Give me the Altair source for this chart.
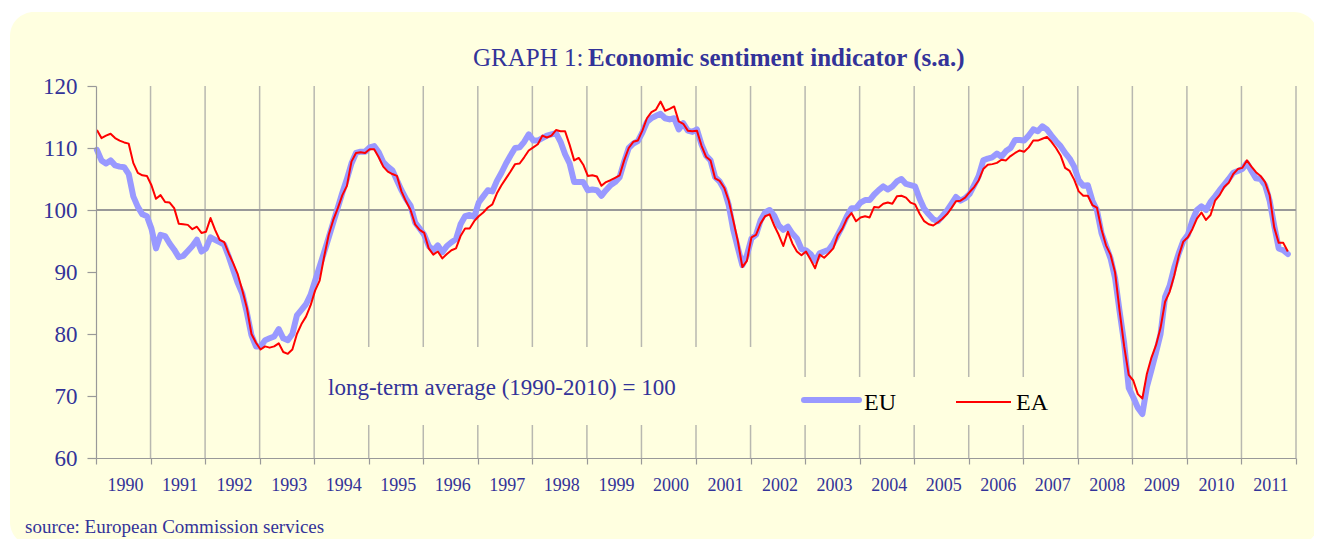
import altair as alt
import pandas as pd

BG = "#FFFFE0"
NAVY = "#333399"
FONT = "Liberation Serif"

# ---------------- data ----------------
year_ticks = list(range(1990, 2013))          # year boundaries (ticks / grid)
grid_years = list(range(1991, 2013))
y_ticks = [60, 70, 80, 90, 100, 110, 120]
series_names = ["EU", "EA"]
series_colors = ["#9999FF", "#FF0000"]
long_term_average = [100]

# monthly values, Jan 1990 .. Nov 2011
eu_values = [
    109.7, 108.0, 107.5, 108.0, 107.2, 107.0, 106.9, 105.8, 102.2, 100.5, 99.3, 99.0,   # 1990
    97.0, 93.8, 96.0, 95.8, 94.6, 93.6, 92.4, 92.6, 93.4, 94.2, 95.2, 93.3,             # 1991
    93.8, 95.6, 95.2, 94.8, 94.4, 92.5, 90.3, 88.2, 86.5, 83.4, 79.8, 78.0,             # 1992
    78.0, 79.0, 79.3, 79.6, 80.8, 79.3, 79.0, 80.0, 83.0, 83.9, 84.8, 86.3,             # 1993
    88.6, 90.9, 93.2, 95.6, 98.0, 100.4, 102.8, 105.0, 107.5, 109.2, 109.4, 109.4,      # 1994
    110.1, 110.3, 109.3, 107.7, 107.0, 106.4, 104.8, 103.2, 101.8, 100.7, 98.0, 97.0,   # 1995
    96.0, 94.2, 93.5, 94.3, 93.2, 94.2, 94.8, 95.3, 97.7, 99.0, 99.2, 98.9,             # 1996
    101.2, 102.2, 103.2, 103.0, 104.7, 106.0, 107.5, 108.8, 110.0, 110.1, 111.0, 112.2, # 1997
    111.2, 111.2, 111.6, 112.0, 112.2, 112.4, 111.0, 109.0, 107.5, 104.5, 104.5, 104.5, # 1998
    103.2, 103.3, 103.2, 102.3, 103.2, 104.0, 104.5, 105.3, 107.8, 110.0, 110.7, 111.1, # 1999
    112.5, 114.2, 114.8, 115.2, 115.5, 114.8, 114.6, 114.8, 113.0, 114.0, 112.8, 112.6, # 2000
    113.0, 110.6, 108.8, 108.0, 105.3, 104.6, 103.3, 100.8, 96.8, 93.9, 91.1, 92.7,     # 2001
    95.4, 96.0, 98.3, 99.6, 100.0, 99.1, 97.5, 96.8, 97.3, 96.2, 95.4, 93.7,            # 2002
    93.5, 92.9, 91.8, 93.0, 93.3, 93.6, 94.6, 96.0, 97.4, 99.0, 100.3, 100.3,           # 2003
    101.2, 101.6, 101.6, 102.5, 103.2, 103.8, 103.3, 103.8, 104.6, 105.0, 104.2, 104.0, # 2004
    103.8, 101.8, 100.2, 99.3, 98.5, 98.2, 99.0, 99.9, 101.0, 102.1, 101.5, 101.9,      # 2005
    102.6, 104.0, 105.5, 108.0, 108.3, 108.5, 109.1, 108.6, 109.5, 110.0, 111.3, 111.3, # 2006
    111.2, 112.0, 113.0, 112.7, 113.5, 113.0, 112.0, 111.1, 110.3, 109.2, 108.3, 107.0, # 2007
    104.8, 103.9, 104.0, 101.5, 100.0, 96.3, 94.2, 92.2, 89.0, 83.6, 78.5, 71.3,        # 2008
    69.8, 68.1, 67.1, 71.5, 74.2, 77.0, 80.0, 86.0, 87.8, 90.7, 93.0, 95.0,             # 2009
    96.0, 98.3, 100.0, 100.6, 100.0, 101.3, 102.2, 103.2, 104.1, 105.0, 106.0, 106.3,   # 2010
    106.6, 107.6, 106.3, 105.1, 105.0, 104.0, 101.5, 97.5, 93.8, 93.5, 92.9,            # 2011
]

ea_values = [
    112.9, 111.6, 112.0, 112.3, 111.6, 111.2, 110.9, 110.7, 107.6, 106.0, 105.6, 105.5, # 1990
    104.0, 101.8, 102.4, 101.3, 101.2, 100.3, 97.8, 97.7, 97.6, 96.9, 97.3, 96.3,       # 1991
    96.5, 98.7, 96.8, 95.2, 94.8, 93.0, 91.4, 89.6, 87.0, 84.2, 80.0, 78.6,             # 1992
    77.5, 78.0, 77.8, 78.0, 78.5, 77.1, 76.8, 77.5, 80.0, 81.6, 82.8, 84.6,             # 1993
    87.0, 88.6, 92.5, 96.0, 98.4, 100.3, 102.4, 103.9, 107.8, 109.2, 109.3, 109.2,      # 1994
    109.8, 109.8, 108.5, 107.0, 106.2, 105.8, 105.5, 103.0, 101.4, 100.0, 97.7, 96.8,   # 1995
    96.3, 93.8, 92.8, 93.3, 92.2, 92.9, 93.5, 93.8, 95.8, 97.0, 97.0, 98.2,             # 1996
    99.0, 99.6, 100.4, 100.9, 102.7, 104.0, 105.1, 106.2, 107.4, 107.5, 108.5, 109.6,   # 1997
    110.1, 110.6, 112.0, 111.7, 112.0, 112.9, 112.7, 112.7, 110.5, 108.0, 108.4, 107.3, # 1998
    105.5, 105.6, 105.4, 103.9, 104.5, 104.8, 105.2, 105.6, 108.0, 110.0, 111.0, 111.2, # 1999
    112.8, 114.8, 115.8, 116.2, 117.5, 116.0, 116.3, 116.7, 114.3, 113.9, 112.8, 112.7, # 2000
    112.8, 110.4, 108.6, 108.0, 105.1, 104.7, 103.6, 101.5, 98.3, 95.0, 90.8, 91.8,     # 2001
    95.6, 96.0, 97.8, 99.0, 99.3, 97.5, 96.0, 94.2, 96.5, 94.6, 93.3, 92.7,             # 2002
    93.3, 92.0, 90.6, 92.8, 92.3, 93.0, 93.8, 95.9, 97.0, 98.6, 99.5, 98.2,             # 2003
    98.8, 99.0, 98.8, 100.5, 100.4, 101.0, 101.2, 101.0, 102.2, 102.3, 102.0, 101.2,    # 2004
    100.9, 99.4, 98.2, 97.7, 97.5, 98.0, 98.6, 99.3, 100.3, 101.4, 101.5, 102.0,        # 2005
    102.9, 103.7, 104.8, 106.6, 107.3, 107.4, 107.6, 108.1, 108.0, 108.7, 109.2, 109.6, # 2006
    109.4, 110.1, 111.2, 111.2, 111.5, 111.8, 111.0, 110.0, 108.8, 106.8, 106.3, 104.9, # 2007
    103.0, 102.3, 102.3, 100.8, 100.4, 96.9, 94.3, 92.8, 89.9, 83.7, 78.0, 73.4,        # 2008
    72.5, 70.3, 69.6, 73.6, 76.2, 78.2, 81.0, 85.2, 86.8, 89.4, 92.6, 94.9,             # 2009
    95.6, 96.9, 98.6, 99.6, 98.4, 99.2, 101.5, 102.4, 103.7, 104.4, 105.8, 106.6,       # 2010
    106.8, 108.0, 107.0, 106.1, 105.5, 104.5, 102.4, 97.2, 94.7, 94.7, 93.3,            # 2011
]

start_year = 1990
df_eu = pd.DataFrame({"t": [start_year + (i + 0.2) / 12 for i in range(len(eu_values))],
                      "v": eu_values})
df_ea = pd.DataFrame({"t": [start_year + (i + 0.2) / 12 for i in range(len(ea_values))],
                      "v": ea_values})
df_grid = pd.DataFrame({"yr": grid_years})
df_avg = pd.DataFrame({"v": long_term_average})
one = pd.DataFrame({"a": [0]})

# ---------------- layout ----------------
W, H = 1200, 372
xscale = alt.Scale(domain=[1990, 2012], nice=False, zero=False)
yscale = alt.Scale(domain=[60, 120], nice=False, zero=False)

x_axis = alt.Axis(values=year_ticks, format="d",
                  labelExpr="datum.value >= 2012 ? '' : datum.label",
                  labelOffset=29, labelFlush=False, labelOverlap=False,
                  tickSize=6, tickColor="#999999", tickWidth=1.2,
                  domainColor="#999999", domainWidth=1.2, grid=False,
                  labelFont=FONT, labelFontSize=18, labelColor=NAVY,
                  labelPadding=12, title=None, zindex=1)
y_axis = alt.Axis(values=y_ticks, tickSize=9, tickColor="#999999", tickWidth=1.2,
                  domainColor="#999999", domainWidth=1.2, grid=False,
                  labelFont=FONT, labelFontSize=23, labelColor=NAVY,
                  labelPadding=10, title=None, zindex=1)

background = alt.Chart(one).mark_rect(fill=BG, cornerRadius=24).encode(
    x=alt.value(-86), x2=alt.value(1222), y=alt.value(-74), y2=alt.value(460))

grid = alt.Chart(df_grid).mark_rule(color="#b8b8b0", strokeWidth=1.5).encode(
    x=alt.X("yr:Q", scale=xscale, axis=x_axis),
    y=alt.value(0), y2=alt.value(H))

box_note = alt.Chart(one).mark_rect(fill=BG).encode(
    x=alt.value(226), x2=alt.value(666), y=alt.value(261), y2=alt.value(339))
box_legend = alt.Chart(one).mark_rect(fill=BG).encode(
    x=alt.value(694), x2=alt.value(966), y=alt.value(291), y2=alt.value(339))

avg_line = alt.Chart(df_avg).mark_rule(color="#999999", strokeWidth=2).encode(
    y=alt.Y("v:Q", scale=yscale, axis=y_axis), x=alt.value(0), x2=alt.value(W))

eu_line = alt.Chart(df_eu).mark_line(color=series_colors[0], strokeWidth=6,
                                     strokeCap="round", strokeJoin="round").encode(
    x=alt.X("t:Q", scale=xscale, axis=x_axis),
    y=alt.Y("v:Q", scale=yscale, axis=y_axis))
ea_line = alt.Chart(df_ea).mark_line(color=series_colors[1], strokeWidth=2,
                                     strokeJoin="round").encode(
    x=alt.X("t:Q", scale=xscale, axis=x_axis),
    y=alt.Y("v:Q", scale=yscale, axis=y_axis))

title1 = alt.Chart(one).mark_text(font=FONT, fontSize=25, color=NAVY, align="left",
                                  baseline="alphabetic").encode(
    x=alt.value(377), y=alt.value(-20), text=alt.value("GRAPH 1:"))
title2 = alt.Chart(one).mark_text(font=FONT, fontSize=25, color=NAVY, align="left",
                                  baseline="alphabetic", fontWeight="bold").encode(
    x=alt.value(492), y=alt.value(-20),
    text=alt.value("Economic sentiment indicator (s.a.)"))

note = alt.Chart(one).mark_text(font=FONT, fontSize=23, color=NAVY, align="left",
                                baseline="alphabetic").encode(
    x=alt.value(232), y=alt.value(309),
    text=alt.value("long-term average (1990-2010) = 100"))

leg_eu_sym = alt.Chart(one).mark_rule(color=series_colors[0], strokeWidth=6,
                                      strokeCap="round").encode(
    x=alt.value(708), x2=alt.value(763), y=alt.value(314))
leg_eu_txt = alt.Chart(one).mark_text(font=FONT, fontSize=24, color="black", align="left",
                                      baseline="alphabetic").encode(
    x=alt.value(768), y=alt.value(324), text=alt.value(series_names[0]))
leg_ea_sym = alt.Chart(one).mark_rule(color=series_colors[1], strokeWidth=2).encode(
    x=alt.value(860), x2=alt.value(915), y=alt.value(316))
leg_ea_txt = alt.Chart(one).mark_text(font=FONT, fontSize=24, color="black", align="left",
                                      baseline="alphabetic").encode(
    x=alt.value(920), y=alt.value(324), text=alt.value(series_names[1]))

source = alt.Chart(one).mark_text(font=FONT, fontSize=19, color=NAVY, align="left",
                                  baseline="alphabetic").encode(
    x=alt.value(-71), y=alt.value(447),
    text=alt.value("source: European Commission services"))

chart = alt.layer(
    background, grid, box_note, box_legend, avg_line, eu_line, ea_line,
    title1, title2, note, leg_eu_sym, leg_eu_txt, leg_ea_sym, leg_ea_txt, source,
).properties(
    width=W, height=H,
    padding={"left": 88, "top": 78, "right": 18, "bottom": 81},
    autosize=alt.AutoSizeParams(type="none"),
).configure_view(strokeWidth=0).configure(background="white")

chart.save("out.html", embed_options={"renderer": "svg", "actions": False})
